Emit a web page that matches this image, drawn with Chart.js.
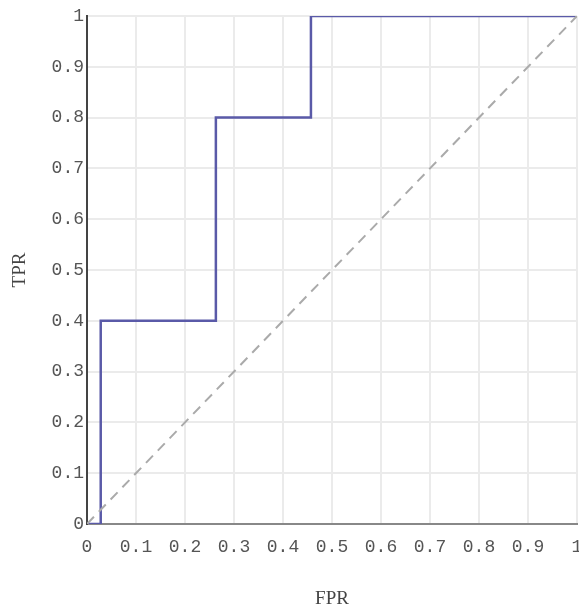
<!DOCTYPE html>
<html>
<head>
<meta charset="utf-8">
<script src="https://cdn.jsdelivr.net/npm/chart.js@4"></script>
<style>
  html, body { margin: 0; padding: 0; background: #fff; }
  #wrap { width: 579px; height: 610px; position: relative; }
</style>
</head>
<body>
<div id="wrap"><canvas id="chart-roc"></canvas></div>
<script>
// ROC curve data
const fpr = [0, 0.028, 0.028, 0.263, 0.263, 0.457, 0.457, 1];
const tpr = [0, 0, 0.4, 0.4, 0.8, 0.8, 1, 1];
const diagX = [0, 1];
const diagY = [0, 1];
const tickValues = [0, 0.1, 0.2, 0.3, 0.4, 0.5, 0.6, 0.7, 0.8, 0.9, 1];

const tickFont = { family: "'Liberation Mono', 'Courier New', monospace", size: 18 };
const titleFont = { family: "'Liberation Serif', 'Times New Roman', serif", size: 19 };

let ctx = document.getElementById('chart-roc').getContext('2d');

let rocChart = new Chart(ctx, {
  type: 'scatter',
  data: {
    datasets: [
      {
        data: diagX.map((x, i) => ({ x: x, y: diagY[i] })),
        showLine: true,
        borderColor: '#aaaaaa',
        borderWidth: 2,
        borderDash: [10, 7],
        pointRadius: 0,
      },
      {
        data: fpr.map((x, i) => ({ x: x, y: tpr[i] })),
        showLine: true,
        borderColor: '#5a5aa8',
        borderWidth: 2.5,
        pointRadius: 0,
      },
    ]
  },
  options: {
    responsive: true,
    maintainAspectRatio: false,
    animation: false,
    layout: { padding: { top: 16, right: 2 } },
    plugins: { legend: { display: false }, tooltip: { enabled: false } },
    scales: {
      x: {
        type: 'linear',
        min: 0, max: 1,
        afterBuildTicks: (axis) => { axis.ticks = tickValues.map(v => ({ value: v })); },
        afterFit: (axis) => { axis.height = 86; axis.paddingRight = 0; axis.paddingLeft = 0; },
        ticks: { font: tickFont, color: '#555', padding: 12, callback: (v) => String(v) },
        grid: { color: '#ebebeb', lineWidth: 2, drawTicks: false },
        border: { color: '#888', width: 2 },
        title: { display: true, text: 'FPR', font: titleFont, color: '#444', padding: { top: 0, bottom: 0 } },
      },
      y: {
        type: 'linear',
        min: 0, max: 1,
        afterBuildTicks: (axis) => { axis.ticks = tickValues.map(v => ({ value: v })); },
        afterFit: (axis) => { axis.width = 87; axis.paddingTop = 0; axis.paddingBottom = 0; },
        ticks: { font: tickFont, color: '#555', padding: 3, callback: (v) => String(v) },
        grid: { color: '#ebebeb', lineWidth: 2, drawTicks: false },
        border: { color: '#444', width: 2 },
        title: { display: true, text: 'TPR', font: titleFont, color: '#444', padding: { top: 9, bottom: 0 } },
      }
    }
  }
});
</script>
</body>
</html>
